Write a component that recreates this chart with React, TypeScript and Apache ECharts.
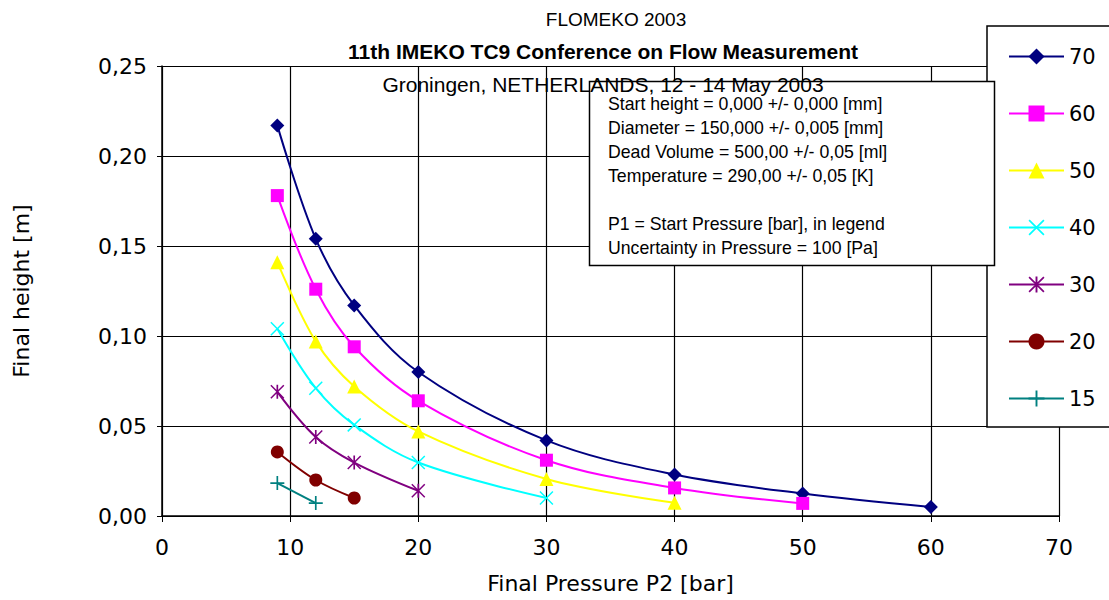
import React, { useEffect, useRef } from "react";
import * as echarts from "echarts";

// ---- Data ----
const seriesNames = ["70", "60", "50", "40", "30", "20", "15"];
const x70 = [9, 12, 15, 20, 30, 40, 50, 60];
const y70 = [0.217, 0.154, 0.117, 0.08, 0.042, 0.023, 0.0125, 0.005];
const x60 = [9, 12, 15, 20, 30, 40, 50];
const y60 = [0.178, 0.126, 0.094, 0.064, 0.031, 0.0156, 0.007];
const x50 = [9, 12, 15, 20, 30, 40];
const y50 = [0.141, 0.097, 0.072, 0.047, 0.0206, 0.0073];
const x40 = [9, 12, 15, 20, 30];
const y40 = [0.104, 0.071, 0.0506, 0.0297, 0.01];
const x30 = [9, 12, 15, 20];
const y30 = [0.069, 0.0439, 0.0297, 0.014];
const x20 = [9, 12, 15];
const y20 = [0.0356, 0.02, 0.01];
const x15 = [9, 12];
const y15 = [0.0183, 0.0072];

const titleLines = [
  "FLOMEKO 2003",
  "11th IMEKO TC9 Conference on Flow Measurement",
  "Groningen, NETHERLANDS, 12 - 14 May 2003",
];
const noteLines = [
  "Start height = 0,000 +/- 0,000 [mm]",
  "Diameter = 150,000 +/- 0,005 [mm]",
  "Dead Volume = 500,00 +/- 0,05 [ml]",
  "Temperature = 290,00 +/- 0,05 [K]",
  "",
  "P1 = Start Pressure [bar], in legend",
  "Uncertainty in Pressure = 100 [Pa]",
];
const xTicks = { min: 0, max: 70, interval: 10 };
const yTicks = { min: 0, max: 0.25, interval: 0.05 };

const X_SHAPE =
  "path://M0,1.5 L1.5,0 L10,8.5 L18.5,0 L20,1.5 L11.5,10 L20,18.5 L18.5,20 L10,11.5 L1.5,20 L0,18.5 L8.5,10 Z";
const STAR_SHAPE =
  "path://M0,1.5 L1.5,0 L10,8.5 L18.5,0 L20,1.5 L11.5,10 L20,18.5 L18.5,20 L10,11.5 L1.5,20 L0,18.5 L8.5,10 Z M8.8,0 L11.2,0 L11.2,20 L8.8,20 Z";
const PLUS_SHAPE =
  "path://M8.8,0 L11.2,0 L11.2,8.8 L20,8.8 L20,11.2 L11.2,11.2 L11.2,20 L8.8,20 L8.8,11.2 L0,11.2 L0,8.8 L8.8,8.8 Z";

const zip = (xs: number[], ys: number[]) => xs.map((x, i) => [x, ys[i]]);

export default function App() {
  const ref = useRef<HTMLDivElement>(null);
  useEffect(() => {
    document.body.style.margin = "0";
    const chart = echarts.init(ref.current!, null, { renderer: "svg" });

    const styles = [
      { c: "#000080", s: "diamond", z: 14 },
      { c: "#FF00FF", s: "rect", z: 13 },
      { c: "#FFFF00", s: "triangle", z: 14 },
      { c: "#00FFFF", s: X_SHAPE, z: 14 },
      { c: "#800080", s: STAR_SHAPE, z: 14 },
      { c: "#800000", s: "circle", z: 13 },
      { c: "#008080", s: PLUS_SHAPE, z: 14 },
    ];
    const datas = [
      zip(x70, y70),
      zip(x60, y60),
      zip(x50, y50),
      zip(x40, y40),
      zip(x30, y30),
      zip(x20, y20),
      zip(x15, y15),
    ];

    const series = seriesNames.map((name, i) => ({
      name,
      type: "line",
      data: datas[i],
      smooth: 0.35,
      symbol: styles[i].s,
      symbolSize: styles[i].z,
      showAllSymbol: true,
      lineStyle: { color: styles[i].c, width: 2 },
      itemStyle: { color: styles[i].c, borderWidth: 0 },
      z: 3,
    }));

    const axisFont = { fontFamily: "DejaVu Sans", fontSize: 22, color: "#000" };

    chart.setOption({
      animation: false,
      backgroundColor: "#fff",
      grid: { left: 162, right: 50, top: 66, bottom: 84 },
      xAxis: {
        type: "value",
        min: xTicks.min,
        max: xTicks.max,
        interval: xTicks.interval,
        name: "Final Pressure P2 [bar]",
        nameLocation: "middle",
        nameGap: 56,
        nameTextStyle: axisFont,
        axisLine: { show: true, lineStyle: { color: "#000", width: 1.5 } },
        axisTick: { show: true, length: 6, lineStyle: { color: "#000" } },
        axisLabel: { ...axisFont, margin: 20 },
        splitLine: { show: true, lineStyle: { color: "#000", width: 1.2 } },
      },
      yAxis: {
        type: "value",
        min: yTicks.min,
        max: yTicks.max,
        interval: yTicks.interval,
        name: "Final height [m]",
        nameLocation: "middle",
        nameGap: 130,
        nameTextStyle: axisFont,
        axisLine: { show: true, lineStyle: { color: "#000", width: 1.5 } },
        axisTick: { show: true, length: 5, lineStyle: { color: "#000" } },
        axisLabel: {
          ...axisFont,
          margin: 15,
          formatter: (v: number) => v.toFixed(2).replace(".", ","),
        },
        splitLine: { show: true, lineStyle: { color: "#000", width: 1.2 } },
      },
      legend: {
        orient: "vertical",
        left: 987,
        top: 26,
        padding: [20, 40, 18, 21],
        itemGap: 36,
        itemWidth: 55,
        itemHeight: 20,
        backgroundColor: "#fff",
        borderColor: "#000",
        borderWidth: 1.5,
        borderRadius: 0,
        textStyle: { fontFamily: "DejaVu Sans", fontSize: 21, color: "#000" },
        data: seriesNames,
        z: 10,
      },
      graphic: [
        {
          type: "rect",
          shape: { x: 589.5, y: 81.5, width: 405, height: 184 },
          style: { fill: "#fff", stroke: "#000", lineWidth: 1.5 },
          z: 100,
        },
        ...noteLines.map((t, i) => ({
          type: "text",
          x: 608,
          y: [104, 128, 152, 176, 200, 224, 248][i],
          style: {
            text: t,
            font: "17.7px 'Liberation Sans'",
            fill: "#000",
            verticalAlign: "middle",
          },
          z: 101,
        })),
        {
          type: "text",
          x: 616,
          y: 19,
          style: {
            text: titleLines[0],
            font: "19px 'Liberation Sans'",
            fill: "#000",
            align: "center",
            verticalAlign: "middle",
          },
          z: 110,
        },
        {
          type: "text",
          x: 603,
          y: 51,
          style: {
            text: titleLines[1],
            font: "bold 21px 'Liberation Sans'",
            fill: "#000",
            align: "center",
            verticalAlign: "middle",
          },
          z: 110,
        },
        {
          type: "text",
          x: 603,
          y: 84,
          style: {
            text: titleLines[2],
            font: "21px 'Liberation Sans'",
            fill: "#000",
            align: "center",
            verticalAlign: "middle",
          },
          z: 110,
        },
      ],
      series,
    });
    return () => chart.dispose();
  }, []);
  return (
    <div
      ref={ref}
      style={{ position: "absolute", left: 0, top: 0, width: 1109, height: 600 }}
    />
  );
}
